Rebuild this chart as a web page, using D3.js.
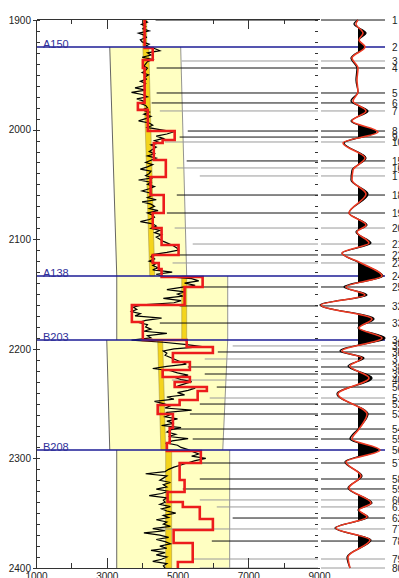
<!DOCTYPE html>
<html>
<head>
<meta charset="utf-8">
<script src="https://cdn.jsdelivr.net/npm/d3@7"></script>
<style>
  html, body { margin: 0; padding: 0; background: #fff; }
  svg { display: block; font-family: "Liberation Sans", Arial, sans-serif; }
  .axis text { font-size: 10px; fill: #222; }
  .axis path, .axis line { stroke: #333; shape-rendering: crispEdges; }
</style>
</head>
<body>
<svg id="chart" width="399" height="578"></svg>
<script>
// ---- data ----
const xTickLabels = [1000, 3000, 5000, 7000, 9000];
const depthTickLabels = [1900, 2000, 2100, 2200, 2300, 2400];

// formation tops
const formationNames = ['A150', 'A138', 'B203', 'B208'];
const formationDepths = [1924.6, 2133.6, 2192.0, 2292.3];

// zones between tops: pale band (trend envelope) and gold trend strip
const zoneTops = [1900, 1924.6, 2133.6, 2192.0, 2292.3];
const zoneBases = [1924.6, 2133.6, 2192.0, 2292.3, 2400];
const bandLeftTop = [null, 3085, 3283, 3000, 3282];
const bandLeftBase = [null, 3283, 3283, 3085, 3282];
const bandRightTop = [null, 5090, 6420, 6420, 6475];
const bandRightBase = [null, 5260, 6420, 6280, 6475];
const trendLeftTop = [4020, 4020, 5120, 4440, 4665];
const trendLeftBase = [4020, 4215, 5120, 4530, 4665];
const trendRightTop = [4130, 4187, 5260, 4580, 4835];
const trendRightBase = [4130, 4356, 5260, 4665, 4835];

// sonic velocity log, one sample every 2 m from 1900 m
const logStart = 1900;
const logStep = 2;
const velocity = [
  4050, 4150, 3980, 4100, 4020, 4200, 3900, 4080, 4120, 3950,
  4000, 4200, 4100, 4350, 4500, 4150, 4250, 4000, 4300, 4150,
  4100, 4050, 4150, 4100, 4000, 4180, 4080, 4120, 3950, 4100,
  4050, 3800, 4100, 3700, 4000, 4150, 3850, 4050, 3950, 4100,
  4150, 4000, 4200, 4050, 4250, 4100, 3900, 4200, 4300, 4150,
  4500, 4900, 4700, 4400, 4600, 4350, 4500, 4250, 4400, 4300,
  4200, 4350, 4150, 4400, 4250, 4100, 4300, 4150, 3950, 4250,
  4200, 4100, 4300, 3900, 4250, 4150, 4350, 4200, 4000, 4250,
  4300, 4150, 4400, 4000, 4250, 4350, 4200, 4450, 4150, 4300,
  4350, 4200, 3950, 4300, 4400, 4250, 4500, 4350, 4550, 4400,
  4500, 4600, 4750, 4880, 4980, 5030, 4700, 4300, 4250, 4350,
  4200, 4400, 4300, 4450, 4300, 4850, 4400, 4600, 5400, 5600,
  5200, 5500, 5100, 4700, 5200, 5000, 5150, 4600, 5100, 4900,
  4000, 3750, 3850, 3700, 3950, 3800, 4550, 4100, 3900, 4150,
  4100, 4250, 4050, 4700, 4150, 4250, 3700, 4600, 5200, 5700,
  4900, 4600, 4700, 4650, 4800, 4950, 5100, 5250, 4700, 4300,
  4800, 5000, 5300, 4900, 5100, 5400, 5200, 5000, 5500, 5300,
  5000, 5200, 4700, 4900, 4350, 4600, 4800, 4650, 5400, 4700,
  4800, 4650, 5000, 4700, 4900, 4550, 5100, 4800, 4700, 4950,
  4750, 5300, 4850, 4700, 5000, 5100, 5300, 5450, 5600, 5400,
  5800, 5500, 5300, 5100, 4900, 4750, 4650, 4100, 4700, 4600,
  4500, 4800, 4600, 4700, 4400, 4750, 4550, 4200, 4700, 4600,
  4650, 4500, 4800, 4550, 4700, 4950, 4600, 4750, 4400, 4700,
  4600, 4800, 4300, 4650, 4050, 4500, 4750, 4400, 4650, 4800,
  4500, 4700, 4250, 4650, 4400, 4700, 4550, 4300, 4700, 4600,
  4650
];

// blocked interval velocity (red)
const blockTops = [1900, 1925.5, 1936.5, 1943.8, 1975.7, 1982, 2001.3, 2009.5, 2012.2, 2027.7,
  2043.2, 2059.7, 2076.1, 2089.8, 2105.3, 2114.4, 2121.7, 2127.2, 2134.5, 2143.6,
  2160, 2175.5, 2192, 2198.4, 2203.8, 2212, 2219.3, 2225.7, 2230.3, 2234.9,
  2238.5, 2246.7, 2251.3, 2259.5, 2272.3, 2286, 2293.3, 2304.2, 2319.7, 2330.7,
  2339.8, 2344.3, 2355.3, 2365.3, 2377.2, 2394.5];
const blockVelocity = [4070, 4300, 4020, 4070, 3880, 4160, 4920, 4580, 4330, 4670,
  4240, 4610, 4300, 4550, 5030, 4300, 4470, 4550, 5710, 5200,
  3710, 4020, 5260, 6000, 4870, 5350, 4580, 5350, 4920, 5830,
  5570, 5060, 4440, 4870, 4780, 4700, 5660, 5060, 5200, 4720,
  5150, 5630, 6000, 4890, 5430, 5010];
const blockBase = 2400;

// picked events (k = black, g = grey, b = formation top)
const eventLabels = ['1', '2', '3', '4', '5', '6', '7', '8', '9', '10',
  '15', '16', '17', '18', '19', '20', '21', '22', '23', '24', '25',
  '32', '33', '34', '35', '36', '37', '38', '39', '40',
  '50', '51', '52', '53', '54', '55', '56', '57', '58', '59', '60', '61', '62',
  '77', '78', '79', '80'];
const eventDepths = [1900.0, 1924.6, 1937.4, 1943.8, 1966.6, 1975.7, 1983.0, 2001.3, 2006.8, 2011.3,
  2028.6, 2035.0, 2042.3, 2059.7, 2076.1, 2089.8, 2104.4, 2114.4, 2121.7, 2133.6, 2143.6,
  2160.9, 2176.5, 2192.0, 2197.4, 2202.9, 2209.3, 2216.6, 2223.0, 2228.5,
  2234.9, 2244.9, 2250.4, 2259.5, 2273.2, 2282.3, 2292.3, 2304.2, 2318.8, 2327.9, 2337.9, 2344.3, 2354.4,
  2364.4, 2375.4, 2391.8, 2400.0];
const eventStartVel = [4380, null, 5120, 4410, 4410, 4270, 4500, 5290, 5060, 4640,
  5260, 4980, 5630, 4980, 4700, 4920, 5430, 4500, 4860, null, 5710,
  5060, 4500, null, 6560, 6140, 5770, 5290, 5770, 4840,
  6110, 5910, 5630, 5350, 4780, 5430, null, 5630, 5630, 5150, 5630, 6110, 6560,
  4500, 5970, 5430, 5630];
const eventKind = ['k', 'b', 'g', 'k', 'k', 'k', 'g', 'k', 'k', 'g',
  'k', 'g', 'g', 'k', 'k', 'g', 'g', 'k', 'g', 'b', 'k',
  'k', 'k', 'b', 'g', 'k', 'g', 'k', 'k', 'g',
  'k', 'g', 'k', 'k', 'k', 'k', 'b', 'k', 'k', 'k', 'g', 'g', 'k',
  'g', 'k', 'g', 'g'];

// synthetic seismogram: extrema depths and amplitudes
const synthDepths = [1900, 1903.6, 1911.9, 1918.2, 1924.6, 1934.7, 1943.8, 1954.7, 1965.7, 1973.9,
  1983.0, 1992.2, 2002.2, 2012.2, 2025.9, 2036.9, 2046.0, 2058.8, 2076.1, 2087.0,
  2093.4, 2103.5, 2112.6, 2121.7, 2133.6, 2143.6, 2150.9, 2160.0, 2172.8, 2181.0,
  2190.1, 2202.0, 2208.4, 2215.7, 2226.6, 2241.2, 2259.5, 2273.2, 2282.3, 2292.3,
  2303.3, 2316.1, 2327.0, 2340.7, 2347.1, 2353.5, 2363.5, 2374.5, 2390.0, 2400];
const synthTrace = [0, -0.2, 0.4, 0.05, 0.3, -0.35, -0.05, -0.1, 0, -0.35,
  0.5, -0.35, 0.9, -0.7, 0.4, -0.3, -0.35, 0.5, -0.45, 0.45,
  -0.1, 0.65, -0.8, 0.1, 1.25, -0.7, 0.45, -1.9, 0.8, 0,
  1.35, -0.9, 0.3, -0.5, 0.7, -1.05, 0.5, 0, -0.4, 1.0,
  -0.65, 0.2, -0.5, 0.7, 0, 0.5, -1.15, 0.65, -0.55, -0.4];
const seismicTrace = [0, -0.1, 0.25, 0.05, 0.35, -0.3, 0, -0.05, 0, -0.25,
  0.4, -0.3, 1.0, -0.75, 0.35, -0.25, -0.3, 0.4, -0.45, 0.4,
  -0.05, 0.55, -0.8, 0.15, 1.2, -0.6, 0.35, -1.85, 0.7, 0.05,
  1.2, -0.8, 0.2, -0.4, 0.55, -1.0, 0.45, 0.05, -0.3, 1.1,
  -0.6, 0.15, -0.45, 0.65, 0.05, 0.45, -1.1, 0.6, -0.5, -0.4];

// ---- layout ----
const svg = d3.select('#chart');
const x = d3.scaleLinear().domain([1000, 9000]).range([36, 319]);
const y = d3.scaleLinear().domain([1900, 2400]).range([20, 568]);
const amp = d3.scaleLinear().domain([-1, 1]).range([338, 378]);
const trackLeft = 321, trackRight = 385;

const defs = svg.append('defs');
defs.append('clipPath').attr('id', 'plotClip')
  .append('rect').attr('x', 36).attr('y', 19).attr('width', 283).attr('height', 550);
defs.append('clipPath').attr('id', 'posClip')
  .append('rect').attr('x', amp(0)).attr('y', 0).attr('width', 60).attr('height', 578);

svg.append('rect').attr('width', 399).attr('height', 578).attr('fill', '#fff');

const plot = svg.append('g').attr('clip-path', 'url(#plotClip)');

// pale trend envelopes
zoneTops.forEach((top, i) => {
  if (bandLeftTop[i] == null) return;
  const base = zoneBases[i];
  plot.append('path')
    .attr('d', d3.line()([
      [x(bandLeftTop[i]), y(top)], [x(bandRightTop[i]), y(top)],
      [x(bandRightBase[i]), y(base)], [x(bandLeftBase[i]), y(base)]
    ]) + 'Z')
    .attr('fill', '#ffffc2');
  plot.append('line')
    .attr('x1', x(bandLeftTop[i])).attr('y1', y(top))
    .attr('x2', x(bandLeftBase[i])).attr('y2', y(base))
    .attr('stroke', '#555').attr('stroke-width', 0.9);
  plot.append('line')
    .attr('x1', x(bandRightTop[i])).attr('y1', y(top))
    .attr('x2', x(bandRightBase[i])).attr('y2', y(base))
    .attr('stroke', '#888').attr('stroke-width', 0.9);
});

// gold trend strip
zoneTops.forEach((top, i) => {
  const base = zoneBases[i];
  plot.append('path')
    .attr('d', d3.line()([
      [x(trendLeftTop[i]), y(top)], [x(trendRightTop[i]), y(top)],
      [x(trendRightBase[i]), y(base)], [x(trendLeftBase[i]), y(base)]
    ]) + 'Z')
    .attr('fill', '#f4d41c')
    .attr('stroke', '#9a8a40').attr('stroke-width', 0.5);
});

// event lines in the log track
const colorOf = k => k === 'b' ? '#1c1c96' : (k === 'g' ? '#9a9a9a' : '#111');
eventDepths.forEach((d, i) => {
  if (eventKind[i] === 'b') return;
  plot.append('line')
    .attr('x1', x(eventStartVel[i])).attr('x2', 318)
    .attr('y1', y(d)).attr('y2', y(d))
    .attr('stroke', colorOf(eventKind[i])).attr('stroke-width', 1);
});

// sonic log
plot.append('path')
  .datum(velocity)
  .attr('fill', 'none')
  .attr('stroke', '#000')
  .attr('stroke-width', 1.2)
  .attr('d', d3.line().x(v => x(v)).y((v, i) => y(logStart + i * logStep)));

// blocked velocity
const blockPts = [];
blockTops.forEach((top, i) => {
  const next = i < blockTops.length - 1 ? blockTops[i + 1] : blockBase;
  blockPts.push([x(blockVelocity[i]), y(top)], [x(blockVelocity[i]), y(next)]);
});
plot.append('path')
  .attr('d', d3.line()(blockPts))
  .attr('fill', 'none')
  .attr('stroke', '#ec1c1c')
  .attr('stroke-width', 2.6)
  .attr('stroke-linejoin', 'miter');

// formation tops
formationDepths.forEach((d, i) => {
  svg.append('line')
    .attr('x1', 36).attr('x2', trackRight)
    .attr('y1', y(d)).attr('y2', y(d))
    .attr('stroke', '#1c1c96').attr('stroke-width', 1.5);
  svg.append('text')
    .attr('x', 43).attr('y', y(d) + 1)
    .attr('font-size', 11).attr('fill', '#30309a')
    .text(formationNames[i]);
});

// axes
const minorTicks = d3.range(1900, 2401, 10);
svg.append('g').attr('class', 'axis').attr('transform', 'translate(36,0)')
  .call(d3.axisLeft(y).tickValues(depthTickLabels).tickSize(3).tickPadding(2)
    .tickSizeOuter(0).tickFormat(d3.format('d')));
svg.append('g').attr('class', 'axis').attr('transform', 'translate(36,0)')
  .call(d3.axisRight(y).tickValues(minorTicks).tickSize(4).tickFormat(''))
  .call(g => g.select('.domain').remove());
svg.append('g').attr('class', 'axis').attr('transform', 'translate(318,0)')
  .call(d3.axisLeft(y).tickValues(minorTicks).tickSize(3).tickFormat(''))
  .call(g => g.select('.domain').remove());

const longTicks = [3000, 7000];
const shortTicks = [2000, 4000, 6000, 8000];
svg.append('g').attr('class', 'axis').attr('transform', 'translate(0,19)')
  .call(d3.axisBottom(x).tickValues(longTicks).tickSize(10).tickSizeOuter(0).tickFormat(''));
svg.append('g').attr('class', 'axis').attr('transform', 'translate(0,19)')
  .call(d3.axisBottom(x).tickValues(shortTicks).tickSize(5).tickFormat(''))
  .call(g => g.select('.domain').remove());
svg.append('g').attr('class', 'axis').attr('transform', 'translate(0,568)')
  .call(d3.axisTop(x).tickValues(longTicks).tickSize(10).tickSizeOuter(0).tickFormat(''));
svg.append('g').attr('class', 'axis').attr('transform', 'translate(0,568)')
  .call(d3.axisTop(x).tickValues(shortTicks).tickSize(5).tickFormat(''))
  .call(g => g.select('.domain').remove());
svg.append('g').attr('class', 'axis').attr('transform', 'translate(0,568)')
  .call(d3.axisBottom(x).tickValues(xTickLabels).tickSize(0).tickPadding(5).tickFormat(d3.format('d')))
  .call(g => g.select('.domain').remove());

// ---- synthetic track ----
const track = svg.append('g');
eventDepths.forEach((d, i) => {
  if (eventKind[i] === 'b') return;
  track.append('line')
    .attr('x1', trackLeft).attr('x2', trackRight)
    .attr('y1', y(d)).attr('y2', y(d))
    .attr('stroke', colorOf(eventKind[i])).attr('stroke-width', 1);
});

const synth = synthDepths.map((d, i) => ({ d, a: synthTrace[i], s: seismicTrace[i] }));
track.append('path')
  .datum(synth)
  .attr('clip-path', 'url(#posClip)')
  .attr('fill', '#000')
  .attr('d', d3.area().curve(d3.curveMonotoneY)
    .y(p => y(p.d)).x0(amp(0)).x1(p => amp(p.a)));
track.append('path')
  .datum(synth)
  .attr('fill', 'none').attr('stroke', '#000').attr('stroke-width', 1.3)
  .attr('d', d3.line().curve(d3.curveMonotoneY).x(p => amp(p.a)).y(p => y(p.d)));
track.append('path')
  .datum(synth)
  .attr('fill', 'none').attr('stroke', '#ef3b24').attr('stroke-width', 1.6)
  .attr('d', d3.line().curve(d3.curveMonotoneY).x(p => amp(p.s)).y(p => y(p.d)));

// event numbers, clipped by the page edge as in the original
eventDepths.forEach((d, i) => {
  track.append('text')
    .attr('x', 392).attr('y', y(d) + 4)
    .attr('font-size', 10).attr('fill', '#222')
    .text(eventLabels[i]);
});
</script>
</body>
</html>
